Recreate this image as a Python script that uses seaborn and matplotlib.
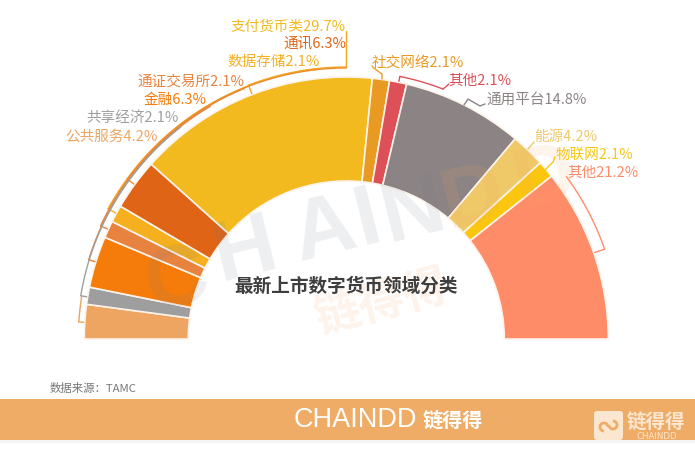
import numpy as np
import matplotlib
matplotlib.use("Agg")
import matplotlib.pyplot as plt
from matplotlib.patches import FancyBboxPatch, Rectangle, Arc
import seaborn as sns

categories = ["公共服务", "共享经济", "金融", "通证交易所", "数据存储", "通讯", "支付货币类",
              "社交网络", "其他", "通用平台", "能源", "物联网", "其他"]
values = [4.2, 2.1, 6.3, 2.1, 2.1, 6.3, 29.7, 2.1, 2.1, 14.8, 4.2, 2.1, 21.2]
colors = ["#EDA561", "#9E9E9E", "#F57C0A", "#E8833F", "#F5AF1F", "#E06416", "#F2BA1E",
          "#E89A22", "#DD5058", "#8C8484", "#EFC968", "#FAC60F", "#FF8C69"]

W, H = 695, 452
sns.set_theme(style="white")
FONT = ["Noto Sans CJK SC", "DejaVu Sans"]
plt.rcParams["font.family"] = FONT

fig = plt.figure(figsize=(W / 100, H / 100), dpi=100)
ax = fig.add_axes([0, 0, 1, 1])
Y = lambda py: H - py
CX, CY, R, r = 346.3, 340, 262, 158

palette = sns.color_palette(colors)
wedges, _ = ax.pie(values + [sum(values)], colors=palette + ["white"],
                   center=(CX, Y(CY)), radius=R, startangle=180, counterclock=False,
                   frame=True,
                   wedgeprops=dict(width=R - r, edgecolor="#FDF3EA", linewidth=1.2))
wedges[-1].set_visible(False)
ax.set_xlim(0, W)
ax.set_ylim(0, H)
ax.set_aspect("equal")
ax.axis("off")


def polar(theta, rad):
    t = np.radians(theta)
    return CX + rad * np.cos(t), Y(CY) + rad * np.sin(t)


def angle(px, py):
    return np.degrees(np.arctan2(CY - py, px - CX))


def bracket(i, rad, start_px, stop_px, color=None):
    """Thin arc outside the ring with an inward tick at its start."""
    c = colors[i] if color is None else color
    a, b = angle(*start_px), angle(*stop_px)
    x, y = polar(np.linspace(a, b, 60), rad)
    ax.plot(x, y, color=c, lw=1.0, solid_capstyle="round", zorder=3)
    x0, y0 = polar(a, rad)
    x1, y1 = polar(a, R + 1)
    ax.plot([x0, x1], [y0, y1], color=c, lw=1.0, zorder=3)


# brackets: staggered arcs that run from each slice up to its label
bracket(6, 272, (250, 90), (346.3, 68), color="#F5A623")
bracket(4, 271.5, (112, 212), (320, 69))
bracket(3, 270.5, (103, 228), (243, 87))
bracket(5, 271, (127, 180), (346.3, 68), color="#EE8A2C")
bracket(2, 269.5, (93, 262), (210, 107), color="#E8833F")
bracket(1, 269, (82, 297), (180, 127))
bracket(0, 268, (79, 323), (82, 297))
bracket(8, 268, (400, 77), (443, 90))
bracket(12, 273.5, (605, 250), (566, 178))

leaders = {
    6: [(346.3, 68), (346.3, 32)],
    7: [(372, 67), (375, 70), (382, 75), (382, 80)],
    8: [(443, 90), (449, 85)],
    9: [(464, 106), (468, 100), (480, 107), (485, 105)],
    10: [(528, 150), (534, 143)],
    11: [(545, 171), (553, 163), (555, 158)],
}
for i, pts in leaders.items():
    xs, ys = zip(*pts)
    c = "#F5A623" if i == 6 else colors[i]
    ax.plot(xs, [Y(v) for v in ys], color=c, lw=1.0, zorder=3)

# labels: (slice, anchor x, centre y, align, weight)
label_pos = [
    (6, 346, 27, "right", "normal"),
    (5, 346, 45, "right", "medium"),
    (4, 320, 62, "right", "normal"),
    (3, 244, 82, "right", "normal"),
    (2, 207, 100, "right", "medium"),
    (1, 179, 118, "right", "normal"),
    (0, 158, 137, "right", "normal"),
    (7, 372, 63, "left", "normal"),
    (8, 448, 81, "left", "medium"),
    (9, 486, 100, "left", "normal"),
    (10, 534, 137, "left", "normal"),
    (11, 556, 155, "left", "normal"),
    (12, 567, 173, "left", "normal"),
]
for i, x, y, ha, w in label_pos:
    ax.text(x, Y(y), f"{categories[i]}{values[i]}%", color=colors[i], fontsize=10.5,
            ha=ha, va="center", fontweight=w, zorder=6)

# watermark letters
mark = [("C", 177, 282, "#6E7A8A"), ("H", 245, 252, "#6E7A8A"), ("A", 325, 232, "#6E7A8A"),
        ("I", 368, 221, "#6E7A8A"), ("N", 413, 213, "#6E7A8A"),
        ("D", 473, 200, "#F4A460"), ("D", 545, 180, "#F4A460")]
for ch, x, y, c in mark:
    ax.text(x, Y(y), ch, fontsize=62, color=c, alpha=0.12, rotation=14, ha="center", va="center",
            family="Liberation Sans", fontweight="bold", zorder=4, rotation_mode="anchor")
ax.text(382, Y(304), "链得得", fontsize=33, color="#F5A45C", alpha=0.13, rotation=15,
        ha="center", va="center", fontweight="bold", zorder=4, rotation_mode="anchor")

ax.text(346, Y(286), "最新上市数字货币领域分类", fontsize=13.4, color="#3E3E3E",
        ha="center", va="center", fontweight="bold", zorder=7)
ax.text(50, Y(389), "数据来源：TAMC", fontsize=8.2, color="#777777", ha="left", va="center")

# footer band
ax.add_patch(Rectangle((0, Y(441)), W, 41, facecolor="#EFAC66", edgecolor="none", zorder=5))
ax.add_patch(Rectangle((0, Y(444)), W, 3, facecolor="#F4F4F4", edgecolor="none", zorder=4))
ax.text(355, Y(420.5), "CHAINDD", fontsize=19.5, color="white", ha="center", va="center",
        family="Liberation Sans", zorder=6)
ax.text(453, Y(420.5), "链得得", fontsize=14.5, color="white", ha="center", va="center",
        fontweight="bold", zorder=6)
ax.add_patch(FancyBboxPatch((594, Y(441)), 29, 29, boxstyle="round,pad=0,rounding_size=3",
                            facecolor="#FBE6CF", edgecolor="none", zorder=6))
ax.add_patch(Arc((604, Y(428)), 8, 8, theta1=0, theta2=270, color="#EFAC66", lw=2, zorder=7))
ax.add_patch(Arc((613, Y(426)), 8, 8, theta1=180, theta2=90, color="#EFAC66", lw=2, zorder=7))
ax.text(656, Y(423), "链得得", fontsize=14, color="#FBE6CF", ha="center", va="center",
        fontweight="bold", zorder=6)
ax.text(656.5, Y(437), "CHAINDD", fontsize=6.2, color="#FBE6CF", ha="center", va="center",
        family="DejaVu Sans", zorder=6)

fig.savefig("out.png", dpi=100, facecolor="white")
